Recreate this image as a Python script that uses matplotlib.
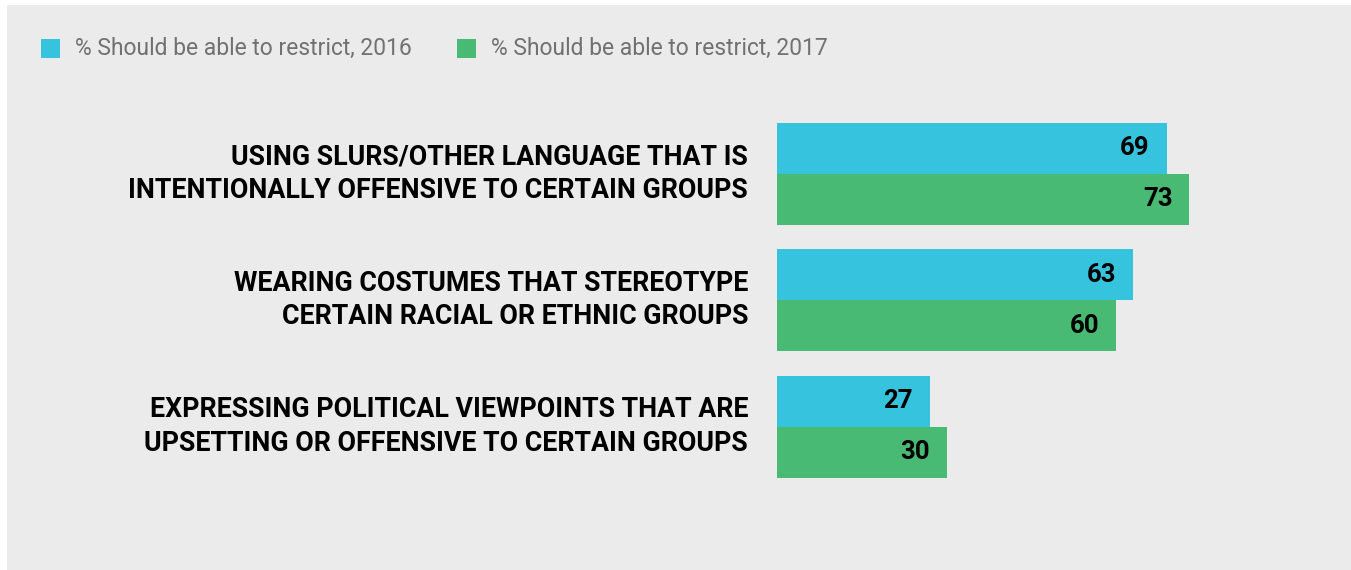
import matplotlib
matplotlib.use("Agg")
import matplotlib.pyplot as plt
from matplotlib.patches import Rectangle

# data
categories = [
    "USING SLURS/OTHER LANGUAGE THAT IS\nINTENTIONALLY OFFENSIVE TO CERTAIN GROUPS",
    "WEARING COSTUMES THAT STEREOTYPE\nCERTAIN RACIAL OR ETHNIC GROUPS",
    "EXPRESSING POLITICAL VIEWPOINTS THAT ARE\nUPSETTING OR OFFENSIVE TO CERTAIN GROUPS",
]
vals_2016 = [69, 63, 27]
vals_2017 = [73, 60, 30]
series_names = ["% Should be able to restrict, 2016", "% Should be able to restrict, 2017"]

blue = "#36c3de"
green = "#48ba74"
bg = "#ebebeb"

W, H = 1351, 570
fig = plt.figure(figsize=(W / 100, H / 100), dpi=100, facecolor="white")

# grey panel
fig.patches.append(Rectangle((7 / W, 0), 1 - 7 / W, 1 - 5 / H, transform=fig.transFigure,
                             facecolor=bg, edgecolor="none", zorder=-10))

ax = fig.add_axes([777 / W, 0, 565 / W, 1])
ax.set_facecolor("none")
ax.set_xlim(0, 100)
step = 126.4
ax.set_ylim((570 - 173.7) / step, -173.7 / step)
ax.axis("off")

bh = 51 / step
ys = list(range(len(categories)))
ax.barh([y - bh / 2 for y in ys], vals_2016, height=bh, color=blue, align="center")
ax.barh([y + bh / 2 for y in ys], vals_2017, height=bh, color=green, align="center")

lab_font = ["Roboto", "DejaVu Sans"]
for y, a, b in zip(ys, vals_2016, vals_2017):
    ax.annotate(str(a), (a, y - bh / 2), xytext=(-17, 0), textcoords="offset pixels",
                ha="right", va="center", fontsize=18.5, fontweight="bold", family=lab_font)
    ax.annotate(str(b), (b, y + bh / 2), xytext=(-17, 0), textcoords="offset pixels",
                ha="right", va="center", fontsize=18.5, fontweight="bold", family=lab_font)

for y, c in zip(ys, categories):
    ax.annotate(c, (0, y), xytext=(-29, 0), textcoords="offset pixels",
                ha="right", va="center", ma="right", fontsize=19.3, fontweight="bold",
                family=lab_font, linespacing=1.3)

# legend
for i, (name, col) in enumerate(zip(series_names, [blue, green])):
    x0 = [41, 457][i]
    fig.patches.append(Rectangle((x0 / W, 1 - 58 / H), 19 / W, 19 / H,
                                 transform=fig.transFigure, facecolor=col, edgecolor="none"))
    fig.text((x0 + 34) / W, 1 - 48.5 / H, name, ha="left", va="center",
             fontsize=16.5, color="#717171", family=["Roboto", "DejaVu Sans"])

fig.savefig("out.png", dpi=100, facecolor="white")
